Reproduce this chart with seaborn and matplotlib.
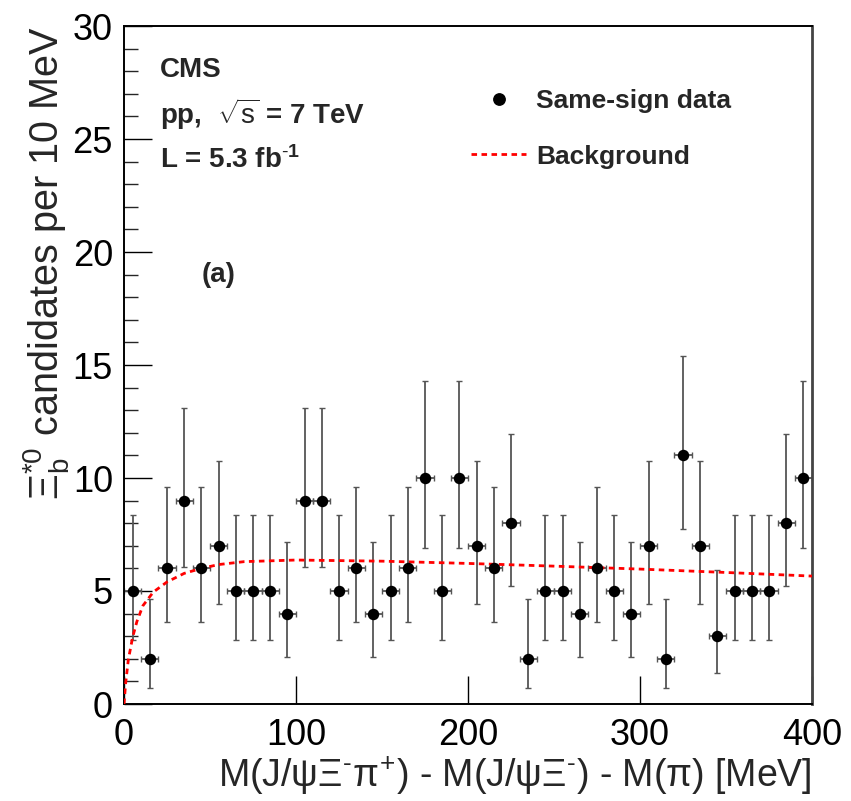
import numpy as np
import pandas as pd
import matplotlib
matplotlib.use("Agg")
import matplotlib.pyplot as plt
from matplotlib.ticker import MultipleLocator
from matplotlib.lines import Line2D
import seaborn as sns

# ---- data ----
bin_centers = [5, 15, 25, 35, 45, 55, 65, 75, 85, 95,
               105, 115, 125, 135, 145, 155, 165, 175, 185, 195,
               205, 215, 225, 235, 245, 255, 265, 275, 285, 295,
               305, 315, 325, 335, 345, 355, 365, 375, 385, 395]
counts = [5, 2, 6, 9, 6, 7, 5, 5, 5, 4,
          9, 9, 5, 6, 4, 5, 6, 10, 5, 10,
          7, 6, 8, 2, 5, 5, 4, 6, 5, 4,
          7, 2, 11, 7, 3, 5, 5, 5, 8, 10]
# lower / upper ends of the vertical error bars (as read)
err_lo_edge = [2.84, 0.71, 3.62, 6.06, 3.62, 4.42, 2.84, 2.84, 2.84, 2.09,
               6.06, 6.06, 2.84, 3.62, 2.09, 2.84, 3.62, 6.89, 2.84, 6.89,
               4.42, 3.62, 5.23, 0.71, 2.84, 2.84, 2.09, 3.62, 2.84, 2.09,
               4.42, 0.71, 7.73, 4.42, 1.37, 2.84, 2.84, 2.84, 5.23, 6.89]
err_hi_edge = [8.38, 4.64, 9.58, 13.11, 9.58, 10.77, 8.38, 8.38, 8.38, 7.16,
               13.11, 13.11, 8.38, 9.58, 7.16, 8.38, 9.58, 14.27, 8.38, 14.27,
               10.77, 9.58, 11.95, 4.64, 8.38, 8.38, 7.16, 9.58, 8.38, 7.16,
               10.77, 4.64, 15.42, 10.77, 5.92, 8.38, 8.38, 8.38, 11.95, 14.27]
bin_half_width = 5

bkg_x = [0, 1, 2.5, 5, 7.5, 11, 17, 25, 35, 45, 55, 70, 100, 150, 200, 250, 300, 350, 400]
bkg_y = [0, 0.95, 1.95, 2.95, 3.65, 4.35, 4.95, 5.4, 5.78, 6.0, 6.17, 6.3, 6.37, 6.32,
         6.22, 6.1, 5.97, 5.82, 5.66]

df = pd.DataFrame({"x": bin_centers, "n": counts})
bkg = pd.DataFrame({"x": bkg_x, "y": bkg_y})

sns.set_style("ticks")
plt.rcParams["font.family"] = ["Liberation Sans", "DejaVu Sans"]
plt.rcParams["mathtext.fontset"] = "custom"
plt.rcParams["mathtext.rm"] = "Liberation Sans"
plt.rcParams["mathtext.it"] = "Liberation Sans"
plt.rcParams["mathtext.bf"] = "Liberation Sans:bold"

W, H = 851, 801
fig = plt.figure(figsize=(W / 100, H / 100), dpi=100)
L, R, T, B = 124, 812, 26, 704
ax = fig.add_axes([L / W, 1 - B / H, (R - L) / W, (B - T) / H])

n = np.array(counts, dtype=float)
yerr = [n - np.array(err_lo_edge), np.array(err_hi_edge) - n]
ax.errorbar(bin_centers, counts, yerr=yerr, xerr=bin_half_width, fmt="none",
            ecolor="#555555", elinewidth=1.3, capsize=2.3, capthick=1.0, zorder=2)

sns.lineplot(data=bkg, x="x", y="y", ax=ax, color="red", lw=2.0,
             linestyle=(0, (2.0, 1.6)), zorder=3)
sns.scatterplot(data=df, x="x", y="n", ax=ax, color="black", s=68,
                edgecolor="black", linewidth=0, zorder=4)

ax.set_xlim(0, 400)
ax.set_ylim(0, 30)
ax.xaxis.set_major_locator(MultipleLocator(100))
ax.yaxis.set_major_locator(MultipleLocator(5))
ax.yaxis.set_minor_locator(MultipleLocator(1))
ax.tick_params(axis="both", which="major", direction="in", length=20, width=1.0,
               labelsize=26, colors="black")
ax.tick_params(axis="y", which="minor", direction="in", length=10, width=1.0)
ax.tick_params(axis="y", which="major", pad=8)
ax.tick_params(axis="x", which="major", pad=10)
ax.set_xlabel("")
ax.set_ylabel("")
for side in ["left", "bottom", "top"]:
    ax.spines[side].set_linewidth(1.4)
    ax.spines[side].set_color("black")
ax.spines["right"].set_linewidth(2.0)
ax.spines["right"].set_color("#444444")
ax.spines["top"].set_visible(True)
ax.spines["right"].set_visible(True)

fig.text(R / W, 1 - 776 / H,
         r"M(J/$\psi\Xi^{\text{-}}\pi^{+}$) - M(J/$\psi\Xi^{\text{-}}$) - M($\pi$) [MeV]",
         ha="right", va="center", fontsize=27)
fig.text(46 / W, 1 - T / H, r"$\Xi_{b}^{*0}$ candidates per 10 MeV",
         rotation=90, ha="center", va="top", fontsize=28.5)

tk = dict(fontsize=20, fontweight="bold", ha="left", va="center")
fig.text(160 / W, 1 - 70 / H, "CMS", **tk)
fig.text(160 / W, 1 - 114 / H, r"pp,  $\sqrt{\rm s}$ = 7 TeV", **tk)
fig.text(160 / W, 1 - 160 / H, r"L = 5.3 fb$^{\mathbf{\text{-}1}}$", **tk)
fig.text(202 / W, 1 - 275 / H, "(a)", **tk)

handles = [Line2D([], [], ls="none", marker="o", color="black", markersize=8.2),
           Line2D([], [], color="red", lw=2.0, ls=(0, (2.0, 1.6)))]
leg = ax.legend(handles, ["Same-sign data", "Background"], loc="upper left",
                bbox_to_anchor=((471 - L) / (R - L), (B - 89) / (B - T)),
                frameon=False, borderaxespad=0, borderpad=0,
                handlelength=2.1, handletextpad=0.38, labelspacing=1.2,
                prop=dict(weight="bold", size=19))

fig.savefig("out.png", dpi=100)
